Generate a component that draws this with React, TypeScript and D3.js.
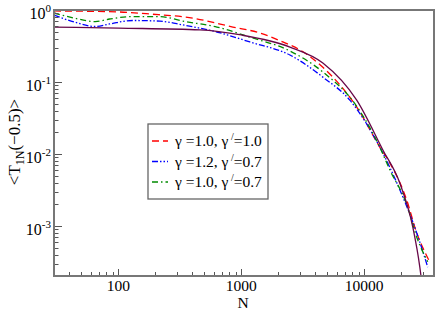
import { useEffect, useRef } from "react";
import * as d3 from "d3";

// N values and <T_1N(-0.5)>
const redN = [30, 100, 181, 404, 855, 1420, 2180, 3000, 4614, 8700, 13400, 16200, 22200, 26800, 31100, 34100];
const redV = [0.97, 0.94, 0.88, 0.77, 0.58, 0.48, 0.36, 0.28, 0.16, 0.045, 0.0125, 0.0075, 0.0023, 0.0008, 0.00044, 0.00032];

const blueN = [30, 44, 65, 85, 131, 218, 336, 634, 1176, 2490, 4614, 7650, 13400, 19500, 26800, 32900];
const blueV = [0.85, 0.68, 0.59, 0.64, 0.715, 0.7, 0.62, 0.495, 0.36, 0.237, 0.117, 0.056, 0.0125, 0.0032, 0.0008, 0.00027];

const greenN = [30, 44, 65, 85, 131, 218, 336, 634, 1176, 2490, 4614, 8700, 13400, 16200, 22200, 26800, 32900];
const greenV = [0.91, 0.77, 0.69, 0.75, 0.81, 0.81, 0.7, 0.58, 0.42, 0.27, 0.138, 0.046, 0.0125, 0.006, 0.002, 0.0007, 0.00032];

const maroonN = [30, 100, 461, 1000, 2490, 4614, 8700, 14200, 19500, 24870, 28370, 29000];
const maroonV = [0.58, 0.56, 0.53, 0.45, 0.306, 0.184, 0.056, 0.0114, 0.00396, 0.00097, 0.00027, 0.000203];

const xTickLabels = [100, 1000, 10000];
const yTickExps = [0, -1, -2, -3];

const legendLabels = [
  { g: "1.0", gp: "1.0" },
  { g: "1.2", gp: "0.7" },
  { g: "1.0", gp: "0.7" },
];

const series = [
  { n: redN, v: redV, color: "#ff0000", dash: "7,4", legend: 0 },
  { n: blueN, v: blueV, color: "#0000ff", dash: "6,2,1.5,2,1.5,2", legend: 1 },
  { n: greenN, v: greenV, color: "#008b00", dash: "6,3,1.5,3", legend: 2 },
  { n: maroonN, v: maroonV, color: "#670748", dash: "", legend: -1 },
];

const W = 436;
const H = 309;
const left = 54, right = 434, top = 10, bottom = 276;
const font = "Liberation Serif, Times New Roman, Times, serif";

export default function App() {
  const ref = useRef<SVGSVGElement>(null);

  useEffect(() => {
    const svg = d3.select(ref.current);
    svg.selectAll("*").remove();

    const x = d3.scaleLog().domain([30, 37000]).range([left, right]);
    const y = d3.scaleLog().domain([2.03e-4, 1]).range([bottom, top]);

    const clip = svg.append("clipPath").attr("id", "plotclip");
    clip.append("rect").attr("x", left).attr("y", top).attr("width", right - left).attr("height", bottom - top);

    const lines = svg.append("g").attr("clip-path", "url(#plotclip)");
    const line = d3
      .line<[number, number]>()
      .x((d) => x(d[0]))
      .y((d) => y(d[1]))
      .curve(d3.curveMonotoneX);

    series.forEach((s) => {
      const pts = s.n.map((n, i) => [n, s.v[i]] as [number, number]);
      lines
        .append("path")
        .datum(pts)
        .attr("fill", "none")
        .attr("stroke", s.color)
        .attr("stroke-width", 1.3)
        .attr("stroke-dasharray", s.dash || null)
        .attr("d", line);
    });

    // ticks
    const ticks = svg.append("g").attr("stroke", "#555").attr("stroke-width", 1);
    for (let e = 1; e <= 4; e++) {
      for (let m = 1; m <= 9; m++) {
        const n = m * Math.pow(10, e);
        if (n < 30 || n > 37000) continue;
        const px = Math.round(x(n)) + 0.5;
        const len = m === 1 ? 7 : 4;
        ticks.append("line").attr("x1", px).attr("x2", px).attr("y1", bottom).attr("y2", bottom - len);
      }
    }
    for (let e = -4; e <= 0; e++) {
      for (let m = 1; m <= 9; m++) {
        const v = m * Math.pow(10, e);
        if (v < 2.03e-4 || v > 1) continue;
        const py = Math.round(y(v)) + 0.5;
        const len = m === 1 ? 8 : 4.5;
        ticks.append("line").attr("x1", left).attr("x2", left + len).attr("y1", py).attr("y2", py);
      }
    }

    // frame
    svg
      .append("rect")
      .attr("x", left)
      .attr("y", top)
      .attr("width", right - left)
      .attr("height", bottom - top)
      .attr("fill", "none")
      .attr("stroke", "#777")
      .attr("stroke-width", 2);

    // x tick labels
    svg
      .append("g")
      .selectAll("text")
      .data(xTickLabels)
      .join("text")
      .attr("x", (d) => x(d))
      .attr("y", 291)
      .attr("text-anchor", "middle")
      .style("font-family", font)
      .style("font-size", "15.5px")
      .text((d) => String(d));

    // y tick labels
    const yl = svg
      .append("g")
      .selectAll("text")
      .data(yTickExps)
      .join("text")
      .attr("x", 51)
      .attr("y", (d) => y(Math.pow(10, d)) + 9)
      .attr("text-anchor", "end")
      .style("font-family", font)
      .style("font-size", "16px");
    yl.append("tspan").text("10");
    yl.append("tspan")
      .attr("dy", -7)
      .style("font-size", "11px")
      .text((d) => (d === 0 ? "0" : "-" + Math.abs(d)));

    // axis titles
    svg
      .append("text")
      .attr("x", 243)
      .attr("y", 307.5)
      .attr("text-anchor", "middle")
      .style("font-family", font)
      .style("font-size", "15.5px")
      .text("N");

    const yt = svg
      .append("text")
      .attr("transform", "translate(20,142) rotate(-90)")
      .attr("text-anchor", "middle")
      .style("font-family", font)
      .style("font-size", "17px");
    yt.append("tspan").text("<T");
    yt.append("tspan").attr("dy", 4).style("font-size", "12px").text("1N");
    yt.append("tspan").attr("dy", -4).text("(\u22120.5)>");

    // legend
    const lg = svg.append("g");
    lg.append("rect")
      .attr("x", 148)
      .attr("y", 124)
      .attr("width", 120)
      .attr("height", 75)
      .attr("fill", "white")
      .attr("stroke", "#666")
      .attr("stroke-width", 1.3);
    series
      .filter((s) => s.legend >= 0)
      .forEach((s) => {
        const by = 146 + s.legend * 20.5;
        lg.append("line")
          .attr("x1", 152)
          .attr("x2", 168)
          .attr("y1", by - 5)
          .attr("y2", by - 5)
          .attr("stroke", s.color)
          .attr("stroke-width", 1.3)
          .attr("stroke-dasharray", s.dash);
        const lab = legendLabels[s.legend];
        const t = lg
          .append("text")
          .attr("x", 175)
          .attr("y", by)
          .style("font-family", font)
          .style("font-size", "15.5px");
        t.append("tspan").text(`\u03b3 =${lab.g}, \u03b3`);
        t.append("tspan").attr("dy", -6).style("font-size", "10px").text(" /");
        t.append("tspan").attr("dy", 6).text(`=${lab.gp}`);
      });
  }, []);

  return (
    <svg
      ref={ref}
      width={W}
      height={H}
      style={{ position: "absolute", left: 0, top: 0, background: "white" }}
    />
  );
}
